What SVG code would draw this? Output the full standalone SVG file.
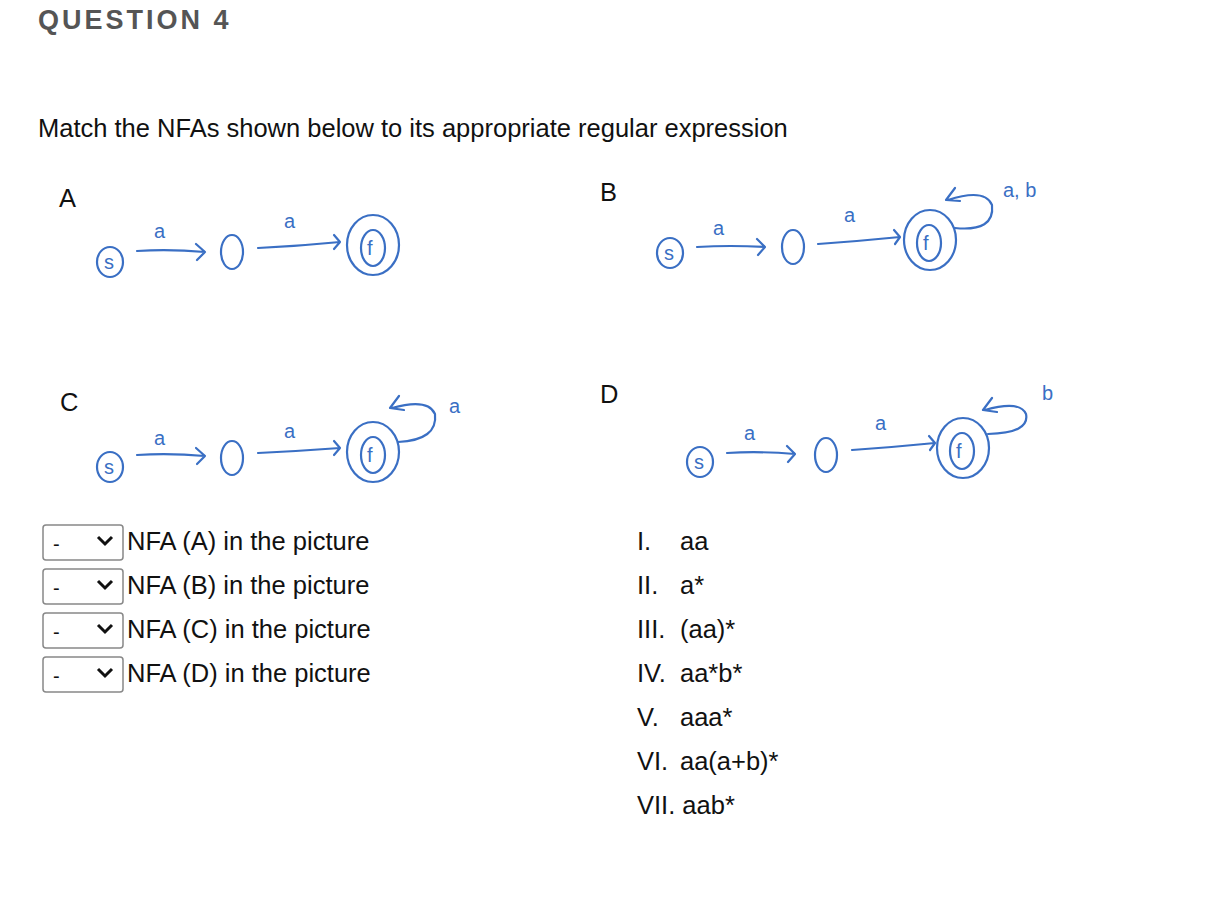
<svg xmlns="http://www.w3.org/2000/svg" width="1212" height="898" viewBox="0 0 1212 898">
<style>
.t{font-family:"Liberation Sans",Arial,sans-serif;fill:#111;font-size:25.5px}
.h{fill:none;stroke:#3a6fc4;stroke-width:2.2;stroke-linecap:round;stroke-linejoin:round}
.hl{font-family:"Liberation Sans",Arial,sans-serif;fill:#3a6fc4;font-size:20px}
.sel{fill:#fff;stroke:#888;stroke-width:1.5}
</style>
<rect width="1212" height="898" fill="#fff"/>
<text x="38" y="29" style="font-family:'Liberation Sans',Arial,sans-serif;font-weight:bold;font-size:27px;fill:#555;letter-spacing:3px">QUESTION 4</text>
<text class="t" x="38" y="137">Match the NFAs shown below to its appropriate regular expression</text>
<text class="t" x="59" y="207">A</text>
<text class="t" x="600" y="201">B</text>
<text class="t" x="60" y="411">C</text>
<text class="t" x="600" y="403">D</text>

<g id="nfaA">
<ellipse class="h" cx="110" cy="262" rx="13" ry="15"/><text class="hl" x="104" y="269">s</text>
<text class="hl" x="154" y="238">a</text>
<ellipse class="h" cx="232" cy="252" rx="11" ry="17"/>
<text class="hl" x="284" y="228">a</text>
<ellipse class="h" cx="373" cy="245" rx="26" ry="30"/><ellipse class="h" cx="373" cy="248" rx="12" ry="18"/><text class="hl" x="367" y="255">f</text>
</g>
<g id="nfaB">
<ellipse class="h" cx="670" cy="253" rx="13" ry="15"/><text class="hl" x="664" y="260">s</text>
<text class="hl" x="713" y="235">a</text>
<ellipse class="h" cx="793" cy="247" rx="11" ry="17"/>
<text class="hl" x="844" y="222">a</text>
<ellipse class="h" cx="930" cy="240" rx="26" ry="30"/><ellipse class="h" cx="929" cy="243" rx="12" ry="18"/><text class="hl" x="923" y="250">f</text>
<text class="hl" x="1003" y="197">a, b</text>
</g>
<g id="nfaC">
<ellipse class="h" cx="110" cy="467" rx="13" ry="15"/><text class="hl" x="104" y="474">s</text>
<text class="hl" x="154" y="445">a</text>
<ellipse class="h" cx="232" cy="458" rx="11" ry="17"/>
<text class="hl" x="284" y="438">a</text>
<ellipse class="h" cx="373" cy="452" rx="26" ry="30"/><ellipse class="h" cx="373" cy="455" rx="12" ry="18"/><text class="hl" x="367" y="462">f</text>
<text class="hl" x="449" y="413">a</text>
</g>
<g id="nfaD">
<ellipse class="h" cx="700" cy="462" rx="13" ry="15"/><text class="hl" x="694" y="469">s</text>
<text class="hl" x="744" y="440">a</text>
<ellipse class="h" cx="826" cy="455" rx="11" ry="17"/>
<text class="hl" x="875" y="430">a</text>
<ellipse class="h" cx="963" cy="448" rx="26" ry="30"/><ellipse class="h" cx="962" cy="451" rx="12" ry="18"/><text class="hl" x="956" y="458">f</text>
<text class="hl" x="1042" y="400">b</text>
</g>
<g id="connectors">
<path class="h" d="M137 251 Q170 249 205 252 M196 244 L205 252 L197 260"/>
<path class="h" d="M258 248 Q300 246 340 242 M334 235 L340 242 L334 249"/>
<path class="h" d="M697 247 Q730 245 765 247 M757 239 L765 247 L758 255"/>
<path class="h" d="M818 244 Q860 241 900 237 M894 230 L900 237 L895 244"/>
<path class="h" d="M955 228 Q995 232 992 205 Q985 188 948 200 M955 188 L946 200 L960 201"/>
<path class="h" d="M137 455 Q170 453 205 456 M196 448 L205 456 L197 464"/>
<path class="h" d="M258 453 Q300 451 340 448 M334 441 L340 448 L334 455"/>
<path class="h" d="M398 442 Q438 440 435 414 Q428 398 392 408 M399 396 L390 408 L404 410"/>
<path class="h" d="M727 453 Q760 451 795 454 M787 446 L795 454 L788 462"/>
<path class="h" d="M852 450 Q895 447 935 443 M929 436 L935 443 L930 450"/>
<path class="h" d="M988 434 Q1030 433 1026 414 Q1020 400 985 410 M992 398 L983 410 L997 412"/>
</g>
<g id="selects">
<rect class="sel" x="43" y="525" width="80" height="35" rx="3"/>
<rect class="sel" x="43" y="569" width="80" height="35" rx="3"/>
<rect class="sel" x="43" y="613" width="80" height="35" rx="3"/>
<rect class="sel" x="43" y="657" width="80" height="35" rx="3"/>
<g class="t" style="font-size:20px"><text x="53" y="551">-</text><text x="53" y="595">-</text><text x="53" y="639">-</text><text x="53" y="683">-</text></g>
<path d="M98 537 l7 7 l7 -7 M98 581 l7 7 l7 -7 M98 625 l7 7 l7 -7 M98 669 l7 7 l7 -7" fill="none" stroke="#111" stroke-width="3"/>
<text class="t" x="127" y="550">NFA (A) in the picture</text>
<text class="t" x="127" y="594">NFA (B) in the picture</text>
<text class="t" x="127" y="638">NFA (C) in the picture</text>
<text class="t" x="127" y="682">NFA (D) in the picture</text>
</g>
<g id="options" class="t">
<text x="637" y="550">I.</text><text x="680" y="550">aa</text>
<text x="637" y="594">II.</text><text x="680" y="594">a*</text>
<text x="637" y="638">III.</text><text x="680" y="638">(aa)*</text>
<text x="637" y="682">IV.</text><text x="680" y="682">aa*b*</text>
<text x="637" y="726">V.</text><text x="680" y="726">aaa*</text>
<text x="637" y="770">VI.</text><text x="680" y="770">aa(a+b)*</text>
<text x="637" y="814">VII. aab*</text>
</g>
</svg>
